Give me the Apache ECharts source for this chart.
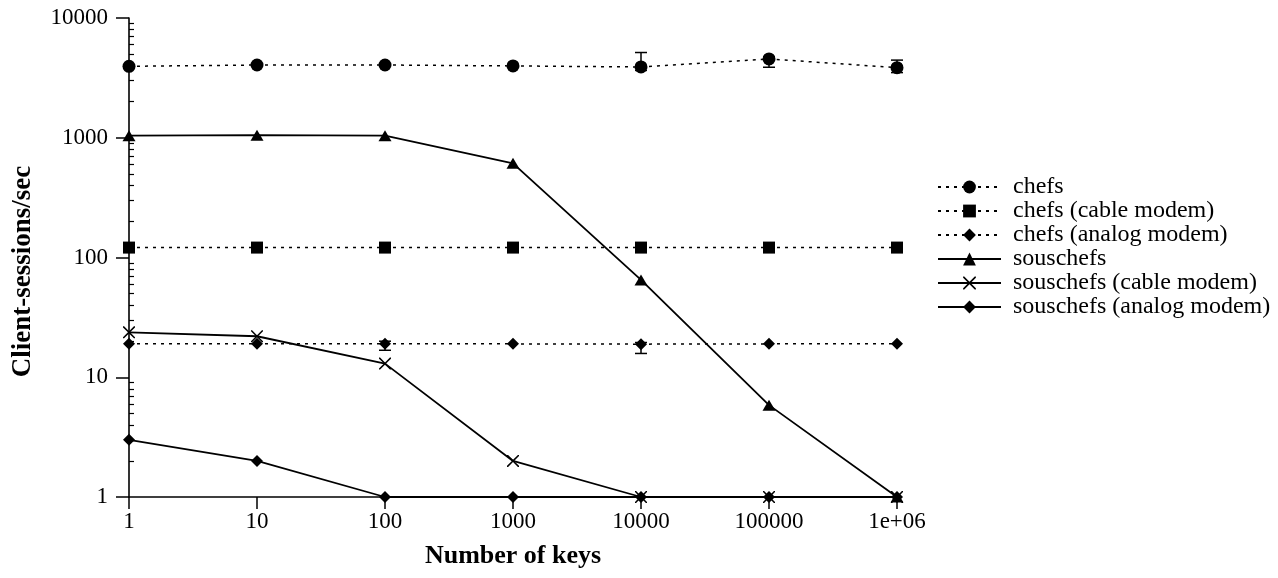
<!DOCTYPE html>
<html>
<head>
<meta charset="utf-8">
<script src="https://cdn.jsdelivr.net/npm/echarts@6/dist/echarts.min.js"></script>
<style>
html,body{margin:0;padding:0;background:#fff;}
#chart{width:1278px;height:578px;}
</style>
</head>
<body>
<div id="chart"></div>
<script>
// ---- data ----
var keys = [1, 10, 100, 1000, 10000, 100000, 1000000];
var xTickLabels = ['1', '10', '100', '1000', '10000', '100000', '1e+06'];
var yTickValues = [1, 10, 100, 1000, 10000];
var yTickLabels = ['1', '10', '100', '1000', '10000'];
var yMinorTicks = [2,3,4,5,6,7,8,9,20,30,40,50,60,70,80,90,200,300,400,500,600,700,800,900,2000,3000,4000,5000,6000,7000,8000,9000];

var chefs = [3950, 4050, 4050, 3980, 3900, 4550, 3850];
var chefsCable = [121, 121, 121, 121, 121, 121, 121];
var chefsAnalog = [19, 19, 19, 19, 18.9, 19, 19];
var souschefs = [1040, 1050, 1040, 611, 65, 5.85, 1];
var souschefsCable = [23.7, 22, 13, 2, 1, 1, 1];
var souschefsAnalog = [3, 2, 1, 1, 1, 1, 1];

// error bars: [key, low, high]
var chefsErr = [[10000, 3650, 5150], [100000, 3880, 4750], [1000000, 3500, 4450]];
var chefsAnalogErr = [[100, 16.8, 20], [10000, 15.8, 19.5]];

var names = ['chefs', 'chefs (cable modem)', 'chefs (analog modem)', 'souschefs', 'souschefs (cable modem)', 'souschefs (analog modem)'];

function pairs(ys) { return keys.map(function (k, i) { return [k, ys[i]]; }); }

var crossPath = 'path://M0,0L9,0L50,41L91,0L100,0L100,9L59,50L100,91L100,100L91,100L50,59L9,100L0,100L0,91L41,50L0,9Z';

var FONT = '"Liberation Serif", "DejaVu Serif", serif';

function lineSeries(name, ys, symbol, size, dashed) {
  return {
    name: name,
    type: 'line',
    data: pairs(ys),
    symbol: symbol,
    symbolSize: size,
    showSymbol: true,
    z: 3,
    lineStyle: { color: '#000', width: dashed ? 1.5 : 1.8, type: dashed ? [3, 5] : 'solid' },
    itemStyle: { color: '#000', borderWidth: 0 },
    emphasis: { disabled: true },
    animation: false
  };
}

function errSeries(data) {
  return {
    type: 'custom',
    data: data,
    z: 2,
    silent: true,
    animation: false,
    encode: { x: 0, y: [1, 2] },
    renderItem: function (params, api) {
      var x = api.value(0);
      var lo = api.coord([x, api.value(1)]);
      var hi = api.coord([x, api.value(2)]);
      var hw = 6;
      var st = { stroke: '#000', lineWidth: 1.5 };
      return {
        type: 'group',
        children: [
          { type: 'line', shape: { x1: lo[0], y1: lo[1], x2: hi[0], y2: hi[1] }, style: st },
          { type: 'line', shape: { x1: lo[0] - hw, y1: lo[1], x2: lo[0] + hw, y2: lo[1] }, style: st },
          { type: 'line', shape: { x1: hi[0] - hw, y1: hi[1], x2: hi[0] + hw, y2: hi[1] }, style: st }
        ]
      };
    }
  };
}

var chart = echarts.init(document.getElementById('chart'), null, { renderer: 'canvas' });
var option = {
  backgroundColor: '#fff',
  animation: false,
  textStyle: { fontFamily: FONT, color: '#000' },
  grid: { left: 129, right: 381, top: 18, bottom: 81, containLabel: false },
  legend: {
    data: names,
    orient: 'vertical',
    left: 937,
    top: 175,
    padding: 0,
    itemWidth: 63,
    itemHeight: 16,
    itemGap: 0,
    textStyle: { fontFamily: FONT, fontSize: 24, color: '#000', lineHeight: 24, padding: [0, 0, 0, 7] },
    selectedMode: false
  },
  xAxis: {
    type: 'log',
    logBase: 10,
    min: 1,
    max: 1000000,
    name: 'Number of keys',
    nameLocation: 'middle',
    nameGap: 46,
    nameTextStyle: { fontFamily: FONT, fontSize: 26, fontWeight: 'bold', color: '#000' },
    axisLine: { show: true, lineStyle: { color: '#000', width: 1.6 } },
    axisTick: { show: true, length: 12, lineStyle: { color: '#000', width: 1.5 }, customValues: keys },
    axisLabel: {
      show: true, margin: 13, fontFamily: FONT, fontSize: 23, color: '#000',
      customValues: keys,
      formatter: function (v) { return xTickLabels[Math.round(Math.log10(v))]; }
    },
    splitLine: { show: false },
    minorTick: { show: false }
  },
  yAxis: [{
    type: 'log',
    logBase: 10,
    min: 1,
    max: 10000,
    name: 'Client-sessions/sec',
    nameLocation: 'middle',
    nameGap: 92,
    nameRotate: 90,
    nameTextStyle: { fontFamily: FONT, fontSize: 27, fontWeight: 'bold', color: '#000', padding: [0, 28, 0, 0] },
    axisLine: { show: true, lineStyle: { color: '#000', width: 1.6 } },
    axisTick: { show: true, length: 13, lineStyle: { color: '#000', width: 1.5 }, customValues: yTickValues },
    axisLabel: {
      show: true, margin: 21, fontFamily: FONT, fontSize: 23, color: '#000',
      customValues: yTickValues,
      formatter: function (v) { return yTickLabels[Math.round(Math.log10(v))]; }
    },
    splitLine: { show: false }
  }, {
    type: 'log',
    logBase: 10,
    min: 1,
    max: 10000,
    position: 'left',
    axisLine: { show: false },
    axisTick: { show: true, inside: true, length: 5, lineStyle: { color: '#000', width: 1.2 }, customValues: yMinorTicks },
    axisLabel: { show: false },
    splitLine: { show: false }
  }],
  series: [
    errSeries(chefsErr),
    errSeries(chefsAnalogErr),
    lineSeries(names[0], chefs, 'circle', 13, true),
    lineSeries(names[1], chefsCable, 'rect', 12, true),
    lineSeries(names[2], chefsAnalog, 'diamond', 12, true),
    lineSeries(names[3], souschefs, 'triangle', [13, 11], false),
    lineSeries(names[4], souschefsCable, crossPath, 12, false),
    lineSeries(names[5], souschefsAnalog, 'diamond', 12, false)
  ]
};
chart.setOption(option);
</script>
</body>
</html>
